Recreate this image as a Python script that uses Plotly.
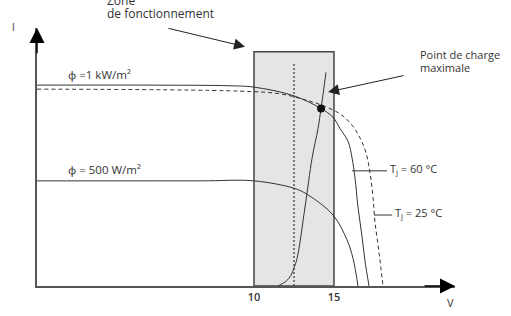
import plotly.graph_objects as go

# ---- data (V in volts, I in amperes) ----
v_1kw_60 = [-3.56, 3.5, 8.5, 10.0, 12.5, 14.19, 14.94, 15.38, 15.88, 16.13, 16.31, 16.5, 16.75, 16.94, 17.19]
i_1kw_60 = [3.00, 3.00, 2.99, 2.97, 2.84, 2.65, 2.52, 2.35, 2.16, 1.91, 1.62, 1.18, 0.74, 0.37, 0.0]

v_1kw_25 = [-3.56, 9.13, 11.63, 13.19, 14.13, 15.38, 16.13, 16.63, 17.0, 17.25, 17.44, 17.56, 17.81, 18.06]
i_1kw_25 = [2.94, 2.91, 2.87, 2.78, 2.71, 2.57, 2.40, 2.21, 1.99, 1.69, 1.32, 0.96, 0.51, 0.0]

v_500 = [-3.56, 6.63, 10.0, 12.5, 13.31, 14.94, 15.81, 16.19, 16.5]
i_500 = [1.57, 1.57, 1.57, 1.46, 1.37, 1.06, 0.69, 0.41, 0.0]

v_load = [11.5, 12.0, 12.31, 12.5, 12.69, 13.19, 13.63, 14.0, 14.19, 14.5]
i_load = [0.0, 0.07, 0.16, 0.27, 0.41, 1.18, 1.91, 2.35, 2.65, 3.19]

v_mpp = [14.19]
i_mpp = [2.65]

zone_v = [10, 15]          # operating zone
zone_i_top = 3.5
dotted_v = 12.5
dotted_i_top = 3.34

tick_vals = [10, 15]
tick_text = ["10", "15"]

x_range = [-3.5625, 22.5625]
y_range = [0, 3.853]

TXT = "#333333"
LN = "#333333"
FONT = "Open Sans"

fig = go.Figure()

# operating zone rectangle
fig.add_shape(type="rect", xref="x", yref="y", x0=zone_v[0], x1=zone_v[1], y0=0, y1=zone_i_top,
              fillcolor="#e5e5e5", line=dict(color="#444444", width=1.5), layer="below")

# dotted vertical line
fig.add_trace(go.Scatter(x=[dotted_v, dotted_v], y=[0, dotted_i_top], mode="lines",
                         line=dict(color=LN, width=1.2, dash="2px,2px"), hoverinfo="skip"))

fig.add_trace(go.Scatter(x=v_1kw_25, y=i_1kw_25, mode="lines", line_shape="spline",
                         line=dict(color=LN, width=1, dash="4px,3px"), hoverinfo="skip"))
fig.add_trace(go.Scatter(x=v_1kw_60, y=i_1kw_60, mode="lines", line_shape="spline",
                         line=dict(color=LN, width=1), hoverinfo="skip"))
fig.add_trace(go.Scatter(x=v_500, y=i_500, mode="lines", line_shape="spline",
                         line=dict(color=LN, width=1), hoverinfo="skip"))
fig.add_trace(go.Scatter(x=v_load, y=i_load, mode="lines", line_shape="spline",
                         line=dict(color=LN, width=1), hoverinfo="skip"))
fig.add_trace(go.Scatter(x=v_mpp, y=i_mpp, mode="markers",
                         marker=dict(color="#111111", size=8), hoverinfo="skip"))

# leader lines for temperature labels
fig.add_trace(go.Scatter(x=[16.13, 18.31], y=[1.72, 1.72], mode="lines",
                         line=dict(color=LN, width=1), hoverinfo="skip"))
fig.add_trace(go.Scatter(x=[17.5, 18.63], y=[1.06, 1.06], mode="lines",
                         line=dict(color=LN, width=1), hoverinfo="skip"))

def txt(x, y, s, size=11, anchor="left", ref="x"):
    fig.add_annotation(x=x, y=y, xref=ref, yref=("y" if ref == "x" else "paper"), text=s,
                       showarrow=False, xanchor=anchor, yanchor="middle",
                       font=dict(family=FONT, size=size, color=TXT))

txt(-1.75, 3.162, "ф =1 kW/m²", 11.5)
txt(-1.75, 1.735, "ф = 500 W/m²", 11.5)
txt(20.25, 3.456, "Point de charge", 11)
txt(20.25, 3.27, "maximale", 11)
txt(18.375, 1.74, "T<sub>j</sub> = 60 °C", 11)
txt(18.69, 1.09, "T<sub>j</sub> = 25 °C", 11)
# texts outside the plotting area (paper coordinates)
txt(0.1627, 1.107, "Zone", 12, ref="paper")
txt(0.1627, 1.058, "de fonctionnement", 12, ref="paper")
txt(-0.0574, 1.004, "I", 10, "center", ref="paper")
txt(0.9904, -0.065, "V", 11, "center", ref="paper")

# pointer arrows
fig.add_annotation(x=9.44, y=3.574, ax=4.56, ay=3.853, xref="x", yref="y", axref="x", ayref="y",
                   text="", showarrow=True, arrowhead=2, arrowsize=2.2, arrowwidth=1, arrowcolor="#222")
fig.add_annotation(x=14.63, y=2.897, ax=19.44, ay=3.147, xref="x", yref="y", axref="x", ayref="y",
                   text="", showarrow=True, arrowhead=2, arrowsize=2.2, arrowwidth=1, arrowcolor="#222")

# axis arrowheads
fig.add_annotation(x=x_range[0], y=y_range[1], ax=x_range[0], ay=y_range[1] - 0.4, xref="x", yref="y",
                   axref="x", ayref="y", text="", showarrow=True, arrowhead=2, arrowsize=2,
                   arrowwidth=1.5, arrowcolor="#000")
fig.add_annotation(x=x_range[1], y=0, ax=x_range[1] - 2, ay=0, xref="x", yref="y",
                   axref="x", ayref="y", text="", showarrow=True, arrowhead=2, arrowsize=2,
                   arrowwidth=1.5, arrowcolor="#000")

fig.update_layout(
    width=511, height=316, margin=dict(l=37, r=56, t=28, b=26),
    paper_bgcolor="white", plot_bgcolor="white", showlegend=False,
    xaxis=dict(range=x_range, showgrid=False, zeroline=False, showline=True, linecolor="#555",
               linewidth=1.5, tickvals=tick_vals, ticktext=tick_text, ticks="",
               tickfont=dict(family=FONT, size=11, color=TXT, weight=600), fixedrange=True),
    yaxis=dict(range=y_range, showgrid=False, zeroline=False, showline=True, linecolor="#555",
               linewidth=1.5, showticklabels=False, ticks="", fixedrange=True),
)

fig.write_html("out.html")
